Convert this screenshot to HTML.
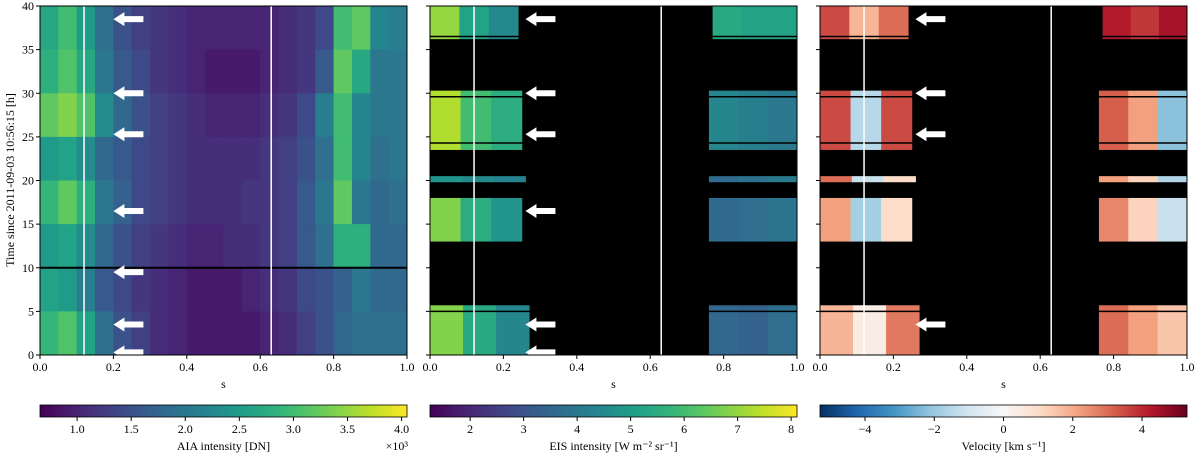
<!DOCTYPE html>
<html><head><meta charset="utf-8"><style>
body{margin:0;background:#fff;}
svg text{font-family:"Liberation Serif",serif;fill:#000;}
</style></head><body>
<svg id="c" width="1200" height="457" xmlns="http://www.w3.org/2000/svg"></svg>
<script>
// ---- data ----
const sCols=[0,0.05,0.1,0.15,0.2,0.25,0.3,0.35,0.4,0.45,0.5,0.55,0.6,0.65,0.7,0.75,0.8,0.85,0.9,0.95];
const aiaRowStart=[35,30,25,20,15,10,5,0];
const aiaValues=[
[2.7,3.0,2.5,1.9,1.5,1.3,1.2,1.1,1.0,1.0,1.0,1.0,1.0,1.1,1.2,1.4,3.0,3.2,2.2,2.1],
[2.8,3.1,2.7,2.0,1.6,1.4,1.2,1.1,1.0,0.9,0.9,0.9,1.0,1.1,1.2,1.6,3.2,2.7,2.0,2.0],
[3.2,3.4,3.1,2.3,1.8,1.5,1.3,1.2,1.1,1.0,1.0,1.0,1.1,1.2,1.4,2.1,3.0,2.2,2.0,2.0],
[2.5,2.6,2.3,1.8,1.6,1.4,1.3,1.2,1.1,1.1,1.1,1.1,1.2,1.3,1.5,1.9,3.0,2.2,1.9,2.0],
[2.9,3.2,2.8,2.0,1.7,1.4,1.3,1.2,1.1,1.1,1.1,1.2,1.2,1.3,1.6,2.0,3.2,2.0,1.8,1.9],
[2.5,2.6,2.3,1.8,1.5,1.3,1.2,1.1,1.0,1.0,1.1,1.1,1.2,1.3,1.6,1.9,2.8,2.8,1.8,1.8],
[2.6,2.5,2.1,1.6,1.4,1.2,1.1,1.0,0.9,0.9,0.9,1.0,1.1,1.2,1.4,1.5,1.7,2.0,1.8,1.8],
[2.9,3.1,2.6,1.9,1.5,1.3,1.1,1.0,0.9,0.9,0.9,0.9,1.0,1.1,1.3,1.5,1.8,1.9,1.9,1.9]];
const eisBandT0=[36.2,23.5,19.8,13,0];
const eisBandT1=[40,30.3,20.5,18,5.7];
const eisLeftEnd=[0.24,0.25,0.26,0.25,0.27];
const eisRightStart=[0.77,0.76,0.76,0.76,0.76];
const eisLeftVals=[[7.0,5.2,4.5],[7.3,6.0,5.5],[4.8,4.5,4.3],[6.8,5.5,4.8],[6.8,5.4,4.4]];
const eisRightVals=[[5.4,5.2,5.2],[4.4,4.2,4.0],[3.6,3.8,4.0],[3.6,3.7,3.9],[3.5,3.4,3.7]];
const velLeftVals=[[3.5,1.8,3.0],[3.5,-1.5,3.5],[3.0,-1.2,1.0],[2.2,-1.8,1.0],[1.8,0.4,2.8]];
const velRightVals=[[4.2,3.8,4.4],[3.2,2.2,-2.2],[2.2,1.2,-1.6],[2.6,1.2,-1.2],[3.0,2.2,1.5]];
const blackLinesT=[5,24.3,29.6,36.5];
const whiteLinesS=[0.12,0.63];
const arrowsP1=[38.5,30,25.3,16.5,9.5,3.5,0.3];
const arrowsP23=[[38.5,30,25.3,16.5,3.5,0.3],[38.5,30,25.3,3.5]];
const yTicks=[0,5,10,15,20,25,30,35,40];
const xTicks=[0,0.2,0.4,0.6,0.8,1.0];
const aiaTicks=[1.0,1.5,2.0,2.5,3.0,3.5,4.0];
const eisTicks=[2,3,4,5,6,7,8];
const velTicks=[-4,-2,0,2,4];
// ---- helpers ----
const NS='http://www.w3.org/2000/svg', svg=document.getElementById('c');
function mk(t,a,p){const e=document.createElementNS(NS,t);for(const k in a)e.setAttribute(k,a[k]);(p||svg).appendChild(e);return e;}
const viridis=[[68,1,84],[72,40,120],[62,74,137],[49,104,142],[38,130,142],[31,158,137],[53,183,121],[110,206,88],[181,222,43],[253,231,37]];
const rdbu=[[5,48,97],[33,102,172],[67,147,195],[146,197,222],[209,229,240],[247,247,247],[253,219,199],[244,165,130],[214,96,77],[178,24,43],[103,0,31]];
function cmap(m,t){t=Math.max(0,Math.min(1,t));const f=t*(m.length-1),i=Math.min(m.length-2,Math.floor(f)),r=f-i;const c=m[i].map((v,k)=>Math.round(v+(m[i+1][k]-v)*r));return `rgb(${c})`;}
const PX=[40,430,820], PW=367, PT=6, PB=355;
const sx=(p,s)=>PX[p]+s*PW, ty=t=>PB-(t/40)*(PB-PT);
const aiaN=v=>(v-0.657)/(4.05-0.657), eisN=v=>(v-1.25)/(8.11-1.25), velN=v=>(v+5.3)/10.6;
for(let p=0;p<3;p++){
  const g=mk('g',{});
  
  
  mk('rect',{x:PX[p],y:PT,width:PW,height:PB-PT,fill:p?'#000':'#fff'},g);
  if(p==0){
    aiaValues.forEach((row,r)=>row.forEach((v,c)=>{
      const e=mk('rect',{x:sx(0,sCols[c]),y:ty(aiaRowStart[r]+5),width:PW*0.05+0.5,height:ty(aiaRowStart[r])-ty(aiaRowStart[r]+5)+0.5,fill:cmap(viridis,aiaN(v))},g);
      
    }));
    mk('line',{x1:PX[0],x2:PX[0]+PW,y1:ty(10),y2:ty(10),stroke:'#000','stroke-width':2},g);
  } else {
    const L=p==1?eisLeftVals:velLeftVals, R=p==1?eisRightVals:velRightVals, m=p==1?viridis:rdbu, n=p==1?eisN:velN;
    eisBandT0.forEach((t0,b)=>{
      const t1=eisBandT1[b];
      [[0,eisLeftEnd[b],L[b]],[eisRightStart[b],1,R[b]]].forEach(([a,z,vals])=>{
        const w=(z-a)/vals.length;
        vals.forEach((v,k)=>{
          const e=mk('rect',{x:sx(p,a+k*w),y:ty(t1),width:w*PW+0.5,height:ty(t0)-ty(t1),fill:cmap(m,n(v))},g);
          
        });
      });
    });
    blackLinesT.forEach(t=>mk('line',{x1:PX[p],x2:PX[p]+PW,y1:ty(t),y2:ty(t),stroke:'#000','stroke-width':1.5},g));
  }
  whiteLinesS.forEach(s=>{const e=mk('line',{x1:sx(p,s),x2:sx(p,s),y1:PT,y2:PB,stroke:'#fff','stroke-width':1.5},g);});
  const arr=p==0?arrowsP1:arrowsP23[p-1], tip=p==0?0.2:0.26;
  arr.forEach(t=>{
    const x=sx(p,tip),y=ty(t);
    const e=mk('polygon',{points:`${x},${y} ${x+11},${y-7} ${x+11},${y-3} ${x+30},${y-3} ${x+30},${y+3} ${x+11},${y+3} ${x+11},${y+7}`,fill:'#fff'},g);
    
  });
  mk('rect',{x:PX[p],y:PT,width:PW,height:PB-PT,fill:'none',stroke:'#000','stroke-width':1},g);
  yTicks.forEach(t=>{mk('line',{x1:PX[p]-4,x2:PX[p],y1:ty(t),y2:ty(t),stroke:'#000'},g);
    if(p==0){const e=mk('text',{x:PX[p]-6,y:ty(t)+4,'text-anchor':'end','font-size':12},g);e.textContent=t;}});
  xTicks.forEach(s=>{mk('line',{x1:sx(p,s),x2:sx(p,s),y1:PB,y2:PB+4,stroke:'#000'},g);
    const e=mk('text',{x:sx(p,s),y:PB+16,'text-anchor':'middle','font-size':12},g);e.textContent=s.toFixed(1);});
  const xl=mk('text',{x:PX[p]+PW/2,y:388,'text-anchor':'middle','font-size':12},g);xl.textContent='s';
  
}
const yl=mk('text',{x:0,y:0,transform:'translate(14,180) rotate(-90)','text-anchor':'middle','font-size':12});
yl.textContent='Time since 2011-09-03 10:56:15 [h]';

const cbDefs=[[viridis,aiaTicks,aiaN,'AIA intensity [DN]'],[viridis,eisTicks,eisN,'EIS intensity [W m⁻² sr⁻¹]'],[rdbu,velTicks,velN,'Velocity [km s⁻¹]']];
cbDefs.forEach(([m,ticks,n,label],p)=>{
  const g=mk('g',{});
  
  const id='gr'+p, lg=mk('linearGradient',{id:id,x1:0,x2:1,y1:0,y2:0},mk('defs',{},g));
  for(let i=0;i<=20;i++)mk('stop',{offset:i/20,'stop-color':cmap(m,i/20)},lg);
  mk('rect',{x:PX[p],y:405,width:PW,height:12,fill:`url(#${id})`,stroke:'#000','stroke-width':0.8},g);
  ticks.forEach(v=>{const x=PX[p]+n(v)*PW;mk('line',{x1:x,x2:x,y1:417,y2:421,stroke:'#000'},g);
    const e=mk('text',{x:x,y:433,'text-anchor':'middle','font-size':12},g);e.textContent=p==2?String(v).replace('-','−'):(p==0?v.toFixed(1):v);});
  const e=mk('text',{x:PX[p]+PW/2,y:450,'text-anchor':'middle','font-size':12},g);e.textContent=label;
});
const ex=mk('text',{x:408,y:450,'text-anchor':'end','font-size':12});ex.textContent='×10³';
</script>
</body></html>
